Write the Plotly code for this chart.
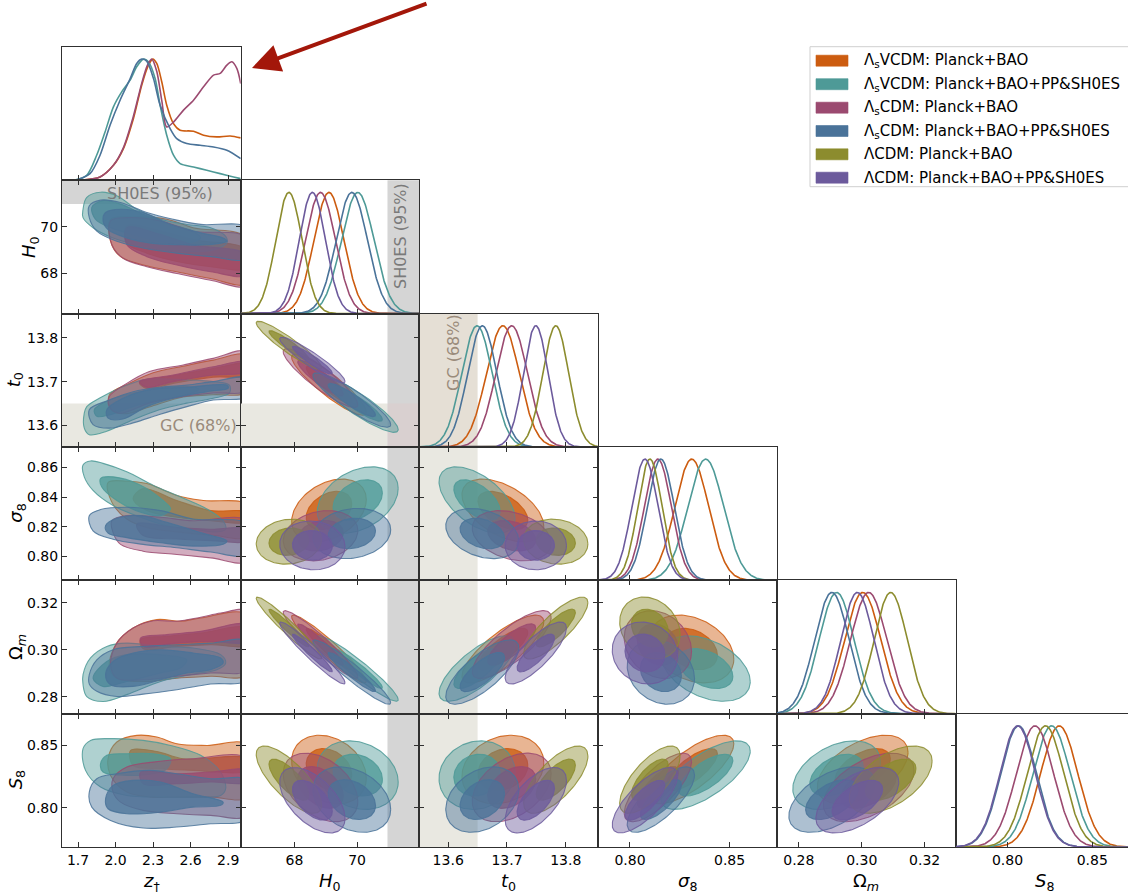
import numpy as np
import plotly.graph_objects as go

W, H = 1128, 893
FONT = "DejaVu Sans"

# ---------------- models ----------------
model_names = [
    "Λ<sub>s</sub>VCDM: Planck+BAO",
    "Λ<sub>s</sub>VCDM: Planck+BAO+PP&amp;SH0ES",
    "Λ<sub>s</sub>CDM: Planck+BAO",
    "Λ<sub>s</sub>CDM: Planck+BAO+PP&amp;SH0ES",
    "ΛCDM: Planck+BAO",
    "ΛCDM: Planck+BAO+PP&amp;SH0ES",
]
model_colors = ["#CC5C10", "#4E9A97", "#9B4A70", "#4A7399", "#8C8C2E", "#6C5A9C"]

# ---------------- parameters ----------------
param_labels = ["<i>z</i><sub>†</sub>", "<i>H</i><sub>0</sub>", "<i>t</i><sub>0</sub>",
                "<i>σ</i><sub>8</sub>", "Ω<sub><i>m</i></sub>", "<i>S</i><sub>8</sub>"]
x_ranges = [[1.572, 3.0], [66.28, 71.99], [13.551, 13.855], [0.784, 0.8737], [0.273, 0.3298], [0.7693, 0.8711]]
y_ranges = [[0, 1.1], [66.28, 71.99], [13.551, 13.855], [0.784, 0.8737], [0.2728, 0.3295], [0.7687, 0.875]]
x_tickvals = [[1.7, 2.0, 2.3, 2.6, 2.9], [68, 70], [13.6, 13.7, 13.8], [0.80, 0.85], [0.28, 0.30, 0.32], [0.80, 0.85]]
x_ticktext = [["1.7", "2.0", "2.3", "2.6", "2.9"], ["68", "70"], ["13.6", "13.7", "13.8"], ["0.80", "0.85"],
              ["0.28", "0.30", "0.32"], ["0.80", "0.85"]]
y_tickvals = [[], [68, 70], [13.6, 13.7, 13.8], [0.80, 0.82, 0.84, 0.86], [0.28, 0.30, 0.32], [0.80, 0.85]]
y_ticktext = [[], ["68", "70"], ["13.6", "13.7", "13.8"], ["0.80", "0.82", "0.84", "0.86"],
              ["0.28", "0.30", "0.32"], ["0.80", "0.85"]]

# observational bands
SH0ES_H0_low = 70.97
GC_t0_high = 13.65

# ---------------- 1D summaries (model order as legend) ----------------
H0_mean = [69.10, 70.02, 68.83, 69.83, 67.82, 68.57]
H0_sigma = [0.48, 0.52, 0.48, 0.50, 0.42, 0.42]
t0_mean = [13.693, 13.649, 13.708, 13.658, 13.783, 13.749]
t0_sigma = [0.028, 0.026, 0.027, 0.025, 0.022, 0.021]
s8_mean = [0.831, 0.838, 0.814, 0.8155, 0.810, 0.8075]
s8_sigma = [0.0085, 0.009, 0.0068, 0.0068, 0.0061, 0.0066]
Om_mean = [0.3003, 0.2920, 0.3022, 0.2905, 0.3092, 0.2986]
Om_sigma = [0.0058, 0.0056, 0.0058, 0.0055, 0.0053, 0.0053]
S8_mean = [0.8305, 0.826, 0.8162, 0.8065, 0.8224, 0.806]
S8_sigma = [0.011, 0.011, 0.011, 0.0105, 0.0108, 0.0105]

# correlation coefficients for each pair (model order)
corr_H0_t0 = [-0.90, -0.90, -0.90, -0.90, -0.93, -0.93]
corr_H0_s8 = [0.35, 0.35, 0.20, 0.15, 0.10, -0.05]
corr_H0_Om = [-0.95, -0.95, -0.95, -0.95, -0.96, -0.96]
corr_H0_S8 = [-0.25, -0.20, -0.40, -0.30, -0.75, -0.55]
corr_t0_s8 = [-0.50, -0.55, -0.30, -0.30, -0.10, 0.00]
corr_t0_Om = [0.80, 0.75, 0.80, 0.75, 0.82, 0.80]
corr_t0_S8 = [0.20, 0.10, 0.40, 0.30, 0.70, 0.60]
corr_s8_Om = [-0.30, -0.40, -0.20, -0.20, -0.20, -0.10]
corr_s8_S8 = [0.75, 0.70, 0.75, 0.75, 0.70, 0.75]
corr_Om_S8 = [0.50, 0.40, 0.50, 0.50, 0.55, 0.55]

# ---------------- z_dagger marginals (ΛsVCDM / ΛsCDM models only) ----------------
zpdf_orange_z = [1.60, 1.716, 1.876, 1.983, 2.063, 2.143, 2.209, 2.263, 2.297, 2.329, 2.369, 2.409, 2.463, 2.516, 2.623, 2.703, 2.809, 2.916, 3.0]
zpdf_orange_p = [0, 0, 0.028, 0.124, 0.262, 0.510, 0.785, 0.950, 1.0, 0.964, 0.813, 0.620, 0.468, 0.413, 0.405, 0.372, 0.358, 0.366, 0.350]
zpdf_teal_z = [1.60, 1.663, 1.769, 1.849, 1.916, 1.983, 2.049, 2.116, 2.169, 2.223, 2.263, 2.316, 2.356, 2.409, 2.463, 2.516, 2.623, 2.729, 2.836, 2.943, 3.0]
zpdf_teal_p = [0, 0, 0.041, 0.207, 0.399, 0.606, 0.730, 0.826, 0.937, 1.0, 0.978, 0.840, 0.620, 0.372, 0.207, 0.138, 0.110, 0.083, 0.055, 0.028, 0.014]
zpdf_maroon_z = [1.60, 1.716, 1.876, 1.983, 2.063, 2.143, 2.209, 2.255, 2.289, 2.329, 2.369, 2.409, 2.463, 2.543, 2.623, 2.703, 2.783, 2.836, 2.889, 2.929, 2.969, 3.0]
zpdf_maroon_p = [0, 0, 0.028, 0.124, 0.27, 0.53, 0.80, 0.95, 1.0, 0.90, 0.66, 0.44, 0.48, 0.579, 0.661, 0.771, 0.868, 0.882, 0.950, 0.978, 0.923, 0.799]
zpdf_blue_z = [1.60, 1.676, 1.796, 1.876, 1.956, 2.036, 2.116, 2.169, 2.209, 2.249, 2.303, 2.356, 2.436, 2.489, 2.569, 2.676, 2.783, 2.889, 3.0]
zpdf_blue_p = [0, 0, 0.055, 0.207, 0.455, 0.661, 0.837, 0.964, 1.0, 0.983, 0.840, 0.620, 0.427, 0.344, 0.303, 0.289, 0.275, 0.248, 0.179]

# ---------------- z_dagger 2D contours (traced), order: orange, teal, maroon, blue ----------------
zc_H0_outer = [
    [(1.96, 70.32), (2.14, 70.42), (2.41, 70.32), (2.62, 69.96), (3.05, 69.52), (3.05, 67.57), (2.76, 67.78), (2.49, 68.07), (2.25, 68.33), (2.04, 68.72), (1.96, 69.38)],
    [(1.74, 70.75), (1.77, 71.26), (1.88, 71.48), (2.01, 71.33), (2.17, 70.75), (2.36, 70.32), (2.57, 70.10), (2.76, 69.96), (2.88, 69.59), (2.89, 69.30), (2.78, 69.01), (2.57, 68.94), (2.36, 69.01), (2.17, 69.23), (1.98, 69.52), (1.82, 69.96), (1.74, 70.39)],
    [(1.96, 70.25), (2.09, 70.39), (2.36, 70.25), (2.62, 69.81), (3.05, 69.52), (3.05, 67.49), (2.76, 67.71), (2.49, 68.0), (2.25, 68.29), (2.06, 68.65), (1.97, 69.23)],
    [(1.79, 70.90), (1.88, 71.14), (2.04, 71.04), (2.25, 70.61), (2.46, 70.32), (2.68, 70.10), (3.05, 69.96), (3.05, 68.65), (2.76, 68.72), (2.49, 68.87), (2.22, 69.09), (2.01, 69.38), (1.85, 69.81), (1.79, 70.39)],
]
zc_H0_inner = [
    [(2.09, 70.03), (2.36, 69.81), (2.62, 69.45), (3.05, 69.01), (3.05, 68.22), (2.76, 68.29), (2.49, 68.51), (2.25, 68.87), (2.09, 69.30)],
    [(1.81, 70.83), (1.90, 71.12), (2.04, 70.97), (2.22, 70.54), (2.44, 70.10), (2.62, 69.81), (2.68, 69.52), (2.57, 69.30), (2.36, 69.38), (2.14, 69.67), (1.96, 69.96), (1.84, 70.32)],
    [(2.09, 69.96), (2.36, 69.67), (2.62, 69.23), (3.05, 68.80), (3.05, 67.93), (2.76, 68.07), (2.49, 68.36), (2.25, 68.72), (2.09, 69.23)],
    [(1.92, 70.61), (2.04, 70.75), (2.22, 70.61), (2.44, 70.10), (2.68, 69.74), (2.86, 69.52), (2.89, 69.38), (2.73, 69.23), (2.49, 69.23), (2.28, 69.30), (2.09, 69.52), (1.94, 69.88), (1.90, 70.25)],
]
zc_t0_outer = [
    [(1.95, 13.670), (2.11, 13.696), (2.30, 13.720), (2.54, 13.735), (2.78, 13.749), (3.05, 13.760), (3.05, 13.677), (2.78, 13.670), (2.54, 13.665), (2.27, 13.642), (2.09, 13.627), (1.97, 13.634)],
    [(1.75, 13.628), (1.77, 13.643), (1.87, 13.662), (2.03, 13.685), (2.22, 13.704), (2.41, 13.706), (2.57, 13.704), (2.78, 13.700), (2.91, 13.692), (2.91, 13.674), (2.78, 13.662), (2.57, 13.651), (2.35, 13.636), (2.14, 13.613), (1.93, 13.587), (1.79, 13.579), (1.75, 13.594)],
    [(1.95, 13.666), (2.09, 13.696), (2.27, 13.723), (2.54, 13.738), (2.78, 13.753), (3.05, 13.768), (3.05, 13.681), (2.78, 13.674), (2.54, 13.666), (2.27, 13.651), (2.03, 13.628), (1.95, 13.643)],
    [(1.79, 13.636), (1.95, 13.658), (2.14, 13.677), (2.35, 13.687), (2.57, 13.692), (2.78, 13.700), (3.05, 13.708), (3.05, 13.666), (2.78, 13.658), (2.57, 13.643), (2.35, 13.625), (2.14, 13.606), (1.95, 13.594), (1.82, 13.602)],
]
zc_t0_inner = [
    [(2.19, 13.698), (2.46, 13.713), (2.78, 13.730), (3.05, 13.740), (3.05, 13.715), (2.78, 13.710), (2.46, 13.696), (2.25, 13.684)],
    [(1.83, 13.636), (1.95, 13.658), (2.14, 13.674), (2.35, 13.685), (2.57, 13.689), (2.67, 13.683), (2.57, 13.670), (2.35, 13.658), (2.14, 13.643), (1.95, 13.624), (1.85, 13.621)],
    [(2.19, 13.700), (2.46, 13.715), (2.78, 13.734), (3.05, 13.745), (3.05, 13.723), (2.78, 13.715), (2.46, 13.700), (2.25, 13.687)],
    [(1.93, 13.636), (2.09, 13.666), (2.30, 13.683), (2.57, 13.687), (2.89, 13.692), (2.90, 13.685), (2.73, 13.677), (2.46, 13.662), (2.25, 13.643), (2.06, 13.615), (1.94, 13.617)],
]
zc_s8_outer = [
    [(1.94, 0.8498), (2.09, 0.8507), (2.25, 0.8491), (2.49, 0.8411), (2.70, 0.8377), (3.05, 0.8348), (3.05, 0.8134), (2.78, 0.8143), (2.49, 0.8166), (2.25, 0.8195), (2.09, 0.8252), (1.97, 0.8366)],
    [(1.74, 0.8616), (1.80, 0.8643), (1.90, 0.8627), (2.09, 0.8570), (2.30, 0.8480), (2.52, 0.8400), (2.73, 0.8320), (2.86, 0.8240), (2.88, 0.8184), (2.81, 0.8166), (2.62, 0.8184), (2.41, 0.8207), (2.20, 0.8264), (1.98, 0.8343), (1.82, 0.8445), (1.75, 0.8536)],
    [(1.97, 0.8241), (2.09, 0.8275), (2.36, 0.8264), (2.62, 0.8241), (3.05, 0.8241), (3.05, 0.7968), (2.76, 0.7991), (2.49, 0.8014), (2.22, 0.8036), (2.04, 0.8082), (1.98, 0.8161)],
    [(1.79, 0.8275), (1.88, 0.8316), (2.09, 0.8332), (2.36, 0.8309), (2.62, 0.8252), (3.05, 0.8218), (3.05, 0.8014), (2.76, 0.8030), (2.49, 0.8059), (2.22, 0.8082), (1.98, 0.8116), (1.82, 0.8173)],
]
zc_s8_inner = [
    [(2.22, 0.8457), (2.49, 0.8377), (2.76, 0.8309), (3.05, 0.8298), (3.05, 0.8234), (2.76, 0.8241), (2.49, 0.8264), (2.25, 0.8309), (2.14, 0.8389)],
    [(1.88, 0.8525), (1.98, 0.8536), (2.20, 0.8480), (2.38, 0.8377), (2.44, 0.8320), (2.36, 0.8275), (2.20, 0.8298), (2.01, 0.8377), (1.89, 0.8468)],
    [(2.17, 0.8218), (2.49, 0.8195), (2.76, 0.8184), (3.05, 0.8184), (3.05, 0.8107), (2.76, 0.8107), (2.49, 0.8118), (2.22, 0.8141)],
    [(1.92, 0.8207), (2.01, 0.8257), (2.20, 0.8275), (2.41, 0.8230), (2.68, 0.8161), (2.89, 0.8105), (2.86, 0.8082), (2.62, 0.8070), (2.36, 0.8093), (2.09, 0.8127), (1.94, 0.8157)],
]
zc_Om_outer = [
    [(1.95, 0.2922), (2.00, 0.3021), (2.14, 0.3092), (2.33, 0.3128), (2.52, 0.3121), (2.68, 0.3135), (3.05, 0.3149), (3.05, 0.2894), (2.76, 0.2887), (2.49, 0.2879), (2.25, 0.2865), (2.01, 0.2879)],
    [(1.74, 0.2894), (1.80, 0.2965), (1.93, 0.3014), (2.09, 0.3028), (2.36, 0.3014), (2.62, 0.3007), (2.84, 0.2979), (2.88, 0.2943), (2.81, 0.2915), (2.62, 0.2896), (2.36, 0.2865), (2.09, 0.2809), (1.90, 0.2780), (1.77, 0.2801), (1.74, 0.2851)],
    [(1.96, 0.2936), (2.01, 0.3028), (2.14, 0.3092), (2.30, 0.3123), (2.49, 0.3121), (2.68, 0.3138), (2.84, 0.3156), (3.05, 0.3163), (3.05, 0.2915), (2.76, 0.2901), (2.49, 0.2887), (2.22, 0.2872), (2.01, 0.2879)],
    [(1.79, 0.2894), (1.85, 0.2957), (1.98, 0.3000), (2.22, 0.3014), (2.49, 0.3021), (2.76, 0.3028), (3.05, 0.3035), (3.05, 0.2872), (2.76, 0.2854), (2.49, 0.2830), (2.22, 0.2811), (2.01, 0.2801), (1.85, 0.2823), (1.79, 0.2854)],
]
zc_Om_inner = [
    [(2.20, 0.3043), (2.41, 0.3057), (2.68, 0.3071), (3.05, 0.3092), (3.05, 0.3021), (2.76, 0.3021), (2.49, 0.3014), (2.22, 0.3004)],
    [(1.82, 0.2879), (1.93, 0.2950), (2.09, 0.2979), (2.36, 0.2979), (2.57, 0.2957), (2.52, 0.2922), (2.36, 0.2901), (2.09, 0.2865), (1.90, 0.2844)],
    [(2.20, 0.3050), (2.41, 0.3064), (2.68, 0.3078), (3.05, 0.3106), (3.05, 0.3035), (2.76, 0.3035), (2.49, 0.3028), (2.22, 0.3014)],
    [(1.92, 0.2894), (1.98, 0.2950), (2.14, 0.2986), (2.36, 0.3000), (2.62, 0.2986), (2.84, 0.2965), (2.86, 0.2943), (2.76, 0.2915), (2.57, 0.2901), (2.36, 0.2872), (2.14, 0.2844), (1.96, 0.2851)],
]
zc_S8_outer = [
    [(1.94, 0.8391), (2.01, 0.8524), (2.17, 0.8577), (2.33, 0.8564), (2.49, 0.8511), (2.73, 0.8497), (3.05, 0.8503), (3.05, 0.8085), (2.76, 0.8085), (2.49, 0.8085), (2.28, 0.8085), (2.09, 0.8125), (1.96, 0.8258)],
    [(1.74, 0.8471), (1.80, 0.8537), (1.96, 0.8551), (2.22, 0.8537), (2.44, 0.8497), (2.68, 0.8418), (2.84, 0.8285), (2.88, 0.8152), (2.84, 0.8098), (2.62, 0.8085), (2.36, 0.8085), (2.09, 0.8098), (1.88, 0.8165), (1.76, 0.8298)],
    [(1.98, 0.8231), (2.09, 0.8324), (2.30, 0.8364), (2.62, 0.8391), (3.05, 0.8391), (3.05, 0.7939), (2.76, 0.7939), (2.49, 0.7952), (2.22, 0.7979), (2.04, 0.8045), (1.98, 0.8125)],
    [(1.79, 0.8125), (1.85, 0.8231), (2.01, 0.8271), (2.28, 0.8298), (2.49, 0.8271), (2.76, 0.8231), (3.05, 0.8218), (3.05, 0.7912), (2.76, 0.7872), (2.49, 0.7846), (2.22, 0.7838), (1.96, 0.7899), (1.81, 0.8005)],
]
zc_S8_inner = [
    [(2.12, 0.8457), (2.33, 0.8449), (2.54, 0.8391), (3.05, 0.8391), (3.05, 0.8298), (2.62, 0.8298), (2.36, 0.8311), (2.14, 0.8338)],
    [(1.88, 0.8351), (1.93, 0.8418), (2.09, 0.8431), (2.30, 0.8431), (2.44, 0.8391), (2.41, 0.8311), (2.30, 0.8271), (2.09, 0.8258), (1.90, 0.8285)],
    [(2.20, 0.8285), (2.49, 0.8271), (2.76, 0.8285), (3.05, 0.8298), (3.05, 0.8205), (2.76, 0.8205), (2.49, 0.8191), (2.22, 0.8191)],
    [(1.92, 0.8072), (1.98, 0.8178), (2.14, 0.8218), (2.36, 0.8205), (2.62, 0.8112), (2.86, 0.8045), (2.84, 0.8019), (2.62, 0.8005), (2.36, 0.7965), (2.09, 0.7952), (1.94, 0.7992)],
]

# ---------------- assemble lookups ----------------
means = [None, H0_mean, t0_mean, s8_mean, Om_mean, S8_mean]
sigmas = [None, H0_sigma, t0_sigma, s8_sigma, Om_sigma, S8_sigma]
corr = {(1, 2): corr_H0_t0, (1, 3): corr_H0_s8, (1, 4): corr_H0_Om, (1, 5): corr_H0_S8,
        (2, 3): corr_t0_s8, (2, 4): corr_t0_Om, (2, 5): corr_t0_S8,
        (3, 4): corr_s8_Om, (3, 5): corr_s8_S8, (4, 5): corr_Om_S8}
zc_outer = {1: zc_H0_outer, 2: zc_t0_outer, 3: zc_s8_outer, 4: zc_Om_outer, 5: zc_S8_outer}
zc_inner = {1: zc_H0_inner, 2: zc_t0_inner, 3: zc_s8_inner, 4: zc_Om_inner, 5: zc_S8_inner}
zpdf = [(zpdf_orange_z, zpdf_orange_p), (zpdf_teal_z, zpdf_teal_p),
        (zpdf_maroon_z, zpdf_maroon_p), (zpdf_blue_z, zpdf_blue_p)]

CHI2_68, CHI2_95 = 2.30, 6.18
OUTER_ALPHA, INNER_ALPHA = 0.45, 0.78

# ---------------- layout geometry (pixels) ----------------
col_px = [62, 240.7, 419.4, 598.1, 776.8, 955.5, 1128]
row_px = [47, 180.3, 313.6, 447, 580.3, 713.7, 847]
FRAME = "#303030"


def rgba(hexc, a):
    h = hexc.lstrip("#")
    return f"rgba({int(h[0:2], 16)},{int(h[2:4], 16)},{int(h[4:6], 16)},{a})"


def pidx(i, j):
    return i * (i + 1) // 2 + j + 1


def refs(k):
    return ("x" if k == 1 else f"x{k}"), ("y" if k == 1 else f"y{k}")


def ellipse(mx, my, sx, sy, rho, c2, n=140):
    t = np.linspace(0, 2 * np.pi, n)
    r = np.sqrt(c2)
    x = mx + sx * r * np.cos(t)
    y = my + sy * r * (rho * np.cos(t) + np.sqrt(1 - rho ** 2) * np.sin(t))
    return x, y


fig = go.Figure()
layout = dict(width=W, height=H, margin=dict(l=0, r=0, t=0, b=0),
              paper_bgcolor="white", plot_bgcolor="white", showlegend=False,
              font=dict(family=FONT, size=14, color="black"))

for i in range(6):
    for j in range(i + 1):
        k = pidx(i, j)
        xr, yr = refs(k)
        diag = (i == j)
        xa = dict(domain=[col_px[j] / W, col_px[j + 1] / W], range=x_ranges[j], anchor=yr,
                  showline=True, linecolor=FRAME, linewidth=1, mirror=(True if diag else "allticks"),
                  ticks="inside", ticklen=5, tickwidth=1, tickcolor=FRAME,
                  tickvals=x_tickvals[j], ticktext=x_ticktext[j], showticklabels=(i == 5),
                  tickfont=dict(family=FONT, size=14, color="black"),
                  showgrid=False, zeroline=False, fixedrange=True)
        ya = dict(domain=[1 - row_px[i + 1] / H, 1 - row_px[i] / H], anchor=xr,
                  showline=True, linecolor=FRAME, linewidth=1, mirror=True,
                  showgrid=False, zeroline=False, fixedrange=True,
                  tickfont=dict(family=FONT, size=14, color="black"))
        if diag:
            ya.update(range=y_ranges[0], ticks="", showticklabels=False)
        else:
            ya.update(range=y_ranges[i], ticks="inside", ticklen=5, tickwidth=1, tickcolor=FRAME,
                      mirror="allticks", tickvals=y_tickvals[i], ticktext=y_ticktext[i],
                      showticklabels=(j == 0))
        layout["xaxis" if k == 1 else f"xaxis{k}"] = xa
        layout["yaxis" if k == 1 else f"yaxis{k}"] = ya

        if diag:
            if i == 0:
                for m, (zz, pp) in enumerate(zpdf):
                    fig.add_trace(go.Scatter(x=zz, y=pp, mode="lines", xaxis=xr, yaxis=yr,
                                             line=dict(color=model_colors[m], width=1.6, shape="spline", smoothing=0.8),
                                             hoverinfo="skip"))
            else:
                xs = np.linspace(x_ranges[i][0], x_ranges[i][1], 400)
                for m in range(6):
                    mu, sg = means[i][m], sigmas[i][m]
                    fig.add_trace(go.Scatter(x=xs, y=np.exp(-0.5 * ((xs - mu) / sg) ** 2), mode="lines",
                                             xaxis=xr, yaxis=yr,
                                             line=dict(color=model_colors[m], width=1.6), hoverinfo="skip"))
        else:
            if j == 0:
                for m in range(4):
                    for poly, fa in ((zc_outer[i][m], OUTER_ALPHA), (zc_inner[i][m], INNER_ALPHA)):
                        px = [p[0] for p in poly] + [poly[0][0]]
                        py = [p[1] for p in poly] + [poly[0][1]]
                        fig.add_trace(go.Scatter(x=px, y=py, mode="lines", fill="toself",
                                                 fillcolor=rgba(model_colors[m], fa), xaxis=xr, yaxis=yr,
                                                 line=dict(color=rgba(model_colors[m], 0.85), width=1.1,
                                                           shape="spline", smoothing=1.0),
                                                 hoverinfo="skip"))
            else:
                rho_list = corr[(j, i)]
                for m in range(6):
                    for c2, fa in ((CHI2_95, OUTER_ALPHA), (CHI2_68, INNER_ALPHA)):
                        ex, ey = ellipse(means[j][m], means[i][m], sigmas[j][m], sigmas[i][m], rho_list[m], c2)
                        fig.add_trace(go.Scatter(x=ex, y=ey, mode="lines", fill="toself",
                                                 fillcolor=rgba(model_colors[m], fa), xaxis=xr, yaxis=yr,
                                                 line=dict(color=rgba(model_colors[m], 0.85), width=1.1),
                                                 hoverinfo="skip"))

# ---------------- bands ----------------
shapes = []
SH_COL, GC_COL, GC_DIAG, OVER_COL = "#d5d5d5", "#e9e8e1", "#e5dfd5", "#d9d0d0"


def dref(r):
    return r + " domain"


def band(k, x0, x1, y0, y1, color, xdom=False, ydom=False):
    xr, yr = refs(k)
    shapes.append(dict(type="rect", layer="below", line=dict(width=0), fillcolor=color,
                       xref=dref(xr) if xdom else xr, yref=dref(yr) if ydom else yr,
                       x0=x0, x1=x1, y0=y0, y1=y1))


# SH0ES horizontal (H0 row, z column)
band(pidx(1, 0), 0, 1, SH0ES_H0_low, y_ranges[1][1], SH_COL, xdom=True)
# SH0ES vertical in H0 column
for i in range(1, 6):
    band(pidx(i, 1), SH0ES_H0_low, x_ranges[1][1], 0, 1, SH_COL, ydom=True)
# GC horizontal (t0 row)
band(pidx(2, 0), 0, 1, y_ranges[2][0], GC_t0_high, GC_COL, xdom=True)
band(pidx(2, 1), x_ranges[1][0], SH0ES_H0_low, y_ranges[2][0], GC_t0_high, GC_COL)
band(pidx(2, 1), SH0ES_H0_low, x_ranges[1][1], y_ranges[2][0], GC_t0_high, OVER_COL)
# GC vertical in t0 column
for i in range(2, 6):
    band(pidx(i, 2), x_ranges[2][0], GC_t0_high, 0, 1, GC_DIAG if i == 2 else GC_COL, ydom=True)

# ---------------- legend (drawn) ----------------
leg_rows = [60.7, 84.2, 107.7, 131.0, 154.3, 177.7]
shapes.append(dict(type="rect", xref="paper", yref="paper", x0=810 / W, x1=1.02,
                   y0=1 - 186.7 / H, y1=1 - 46.7 / H, line=dict(color="#cfcfcf", width=1),
                   fillcolor="white", layer="above"))
annotations = []
for m in range(6):
    yc = leg_rows[m]
    shapes.append(dict(type="rect", xref="paper", yref="paper", x0=816 / W, x1=848 / W,
                       y0=1 - (yc + 5.5) / H, y1=1 - (yc - 5.5) / H,
                       line=dict(color=rgba(model_colors[m], 0.6), width=1), fillcolor=model_colors[m],
                       layer="above"))
    annotations.append(dict(xref="paper", yref="paper", x=862 / W, y=1 - yc / H, xanchor="left",
                            yanchor="middle", text=model_names[m], showarrow=False,
                            font=dict(family=FONT, size=15, color="black")))

# ---------------- axis titles ----------------
ytitle_x = [None, 30, 15, 17, 17, 17]
for i in range(1, 6):
    annotations.append(dict(xref="paper", yref="paper", x=ytitle_x[i] / W,
                            y=1 - (row_px[i] + row_px[i + 1]) / 2 / H, text=param_labels[i],
                            textangle=-90, showarrow=False, xanchor="center", yanchor="middle",
                            font=dict(family=FONT, size=18, color="black")))
xtitle_cx = [151.4, 330.0, 508.8, 687.5, 866.2, 1044.8]
for j in range(6):
    annotations.append(dict(xref="paper", yref="paper", x=xtitle_cx[j] / W, y=1 - 882 / H,
                            text=param_labels[j], showarrow=False, xanchor="center", yanchor="middle",
                            font=dict(family=FONT, size=18, color="black")))

# ---------------- band labels ----------------
annotations += [
    dict(xref="paper", yref="paper", x=160 / W, y=1 - 193 / H, text="SH0ES (95%)", showarrow=False,
         xanchor="center", yanchor="middle", font=dict(family=FONT, size=16, color="#7a7a7a")),
    dict(xref="paper", yref="paper", x=401 / W, y=1 - 236 / H, text="SH0ES (95%)", showarrow=False,
         xanchor="center", yanchor="middle", textangle=-90, font=dict(family=FONT, size=16, color="#7a7a7a")),
    dict(xref="paper", yref="paper", x=198 / W, y=1 - 425 / H, text="GC (68%)", showarrow=False,
         xanchor="center", yanchor="middle", font=dict(family=FONT, size=16, color="#9a8b7b")),
    dict(xref="paper", yref="paper", x=453 / W, y=1 - 353 / H, text="GC (68%)", showarrow=False,
         xanchor="center", yanchor="middle", textangle=-90, font=dict(family=FONT, size=16, color="#9a8b7b")),
]

# ---------------- arrow ----------------
annotations.append(dict(xref="paper", yref="paper", x=252 / W, y=1 - 68 / H, ax=176, ay=-65,
                        axref="pixel", ayref="pixel", text="", showarrow=True, arrowhead=2,
                        arrowsize=1.4, arrowwidth=4, arrowcolor="#a3170a"))

layout["shapes"] = shapes
layout["annotations"] = annotations
fig.update_layout(**layout)
fig.write_html("out.html")
